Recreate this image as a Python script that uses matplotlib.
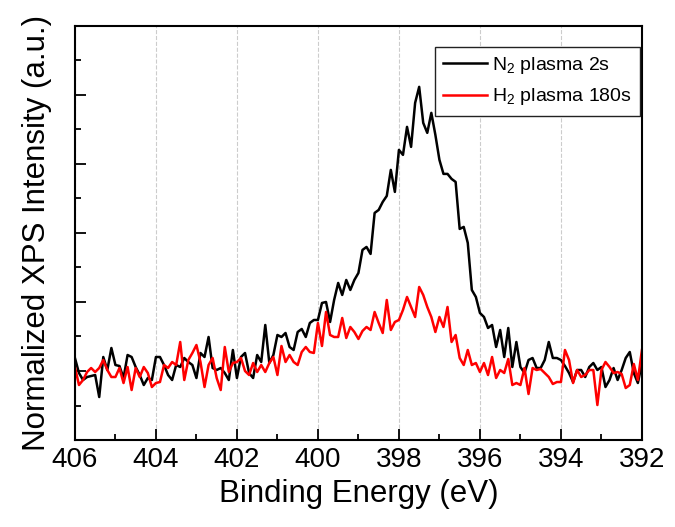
import numpy as np
import matplotlib
matplotlib.use("Agg")
import matplotlib.pyplot as plt
from matplotlib.ticker import MultipleLocator

plt.rcParams['font.family'] = ['Liberation Sans', 'DejaVu Sans']
plt.rcParams['mathtext.fontset'] = 'custom'
plt.rcParams['mathtext.rm'] = 'Liberation Sans'

# binding energy grid, 0.1 eV steps from 406 down to 392
energy = np.round(406 - 0.1 * np.arange(141), 1)

n2_2s = [82, 67, 60, 63, 64, 65, 43, 83, 70, 92,
         75, 74, 62, 85, 83, 73, 65, 55, 62, 60,
         83, 83, 75, 65, 60, 75, 73, 82, 78, 75,
         62, 87, 83, 103, 72, 70, 72,
         67, 60, 90, 62, 83, 87, 67, 62, 85, 78,
         115, 77, 85, 105, 103, 107, 93, 90, 108, 111,
         103, 117, 120, 120, 137, 138, 118, 140, 157, 145,
         160, 150, 160, 167, 190,
         193, 186, 227, 230, 238, 244, 270, 248, 290, 285,
         313, 293, 337, 353, 317, 307, 327, 305, 280, 266,
         266, 261, 258, 211, 213, 197, 150, 143, 127, 123,
         112, 115, 93,
         110, 83, 112, 73, 98, 73, 67, 80, 82, 72,
         72, 80, 98, 82, 82, 80, 74, 67, 58, 70,
         70, 63, 73, 77, 70, 73, 53, 60, 72, 60,
         70, 82, 88, 67, 57, 77]

h2_180s = [73, 55, 60, 68, 72, 68, 72, 80, 70, 63,
           63, 72, 57, 73, 50, 72, 63, 73, 67, 53,
           57, 58, 75, 72, 78, 75, 98, 60, 80, 87,
           95, 78, 53, 75, 82, 62, 50,
           93, 68, 77, 78, 82, 69, 65, 77, 68, 75,
           68, 77, 83, 65, 94, 78, 85, 78, 75, 88,
           93, 88, 87, 117, 94, 128, 105, 103, 103, 122,
           102, 113, 108, 101, 109,
           113, 110, 128, 117, 107, 140, 110, 118, 120, 130,
           143, 133, 123, 153, 145, 133, 123, 108, 123, 113,
           133, 98, 105, 82, 75, 90, 75, 77, 68, 77,
           65, 83, 62,
           70, 67, 81, 55, 57, 55, 72, 46, 72, 70,
           71, 67, 63, 56, 58, 58, 90, 80, 57, 70,
           63, 65, 70, 70, 35, 70, 78, 73, 67, 68,
           66, 52, 55, 76, 60, 90]

labels = ['N$_2$ plasma 2s', 'H$_2$ plasma 180s']

fig = plt.figure(figsize=(6.75, 5.27), dpi=100)
ax = fig.add_axes([0.111, 0.165, 0.840, 0.786])

ax.plot(energy, n2_2s, color='black', linewidth=1.8, label=labels[0])
ax.plot(energy, h2_180s, color='red', linewidth=1.8, label=labels[1])

ax.set_xlim(406, 392)
ax.set_ylim(0, 414)
ax.xaxis.set_major_locator(MultipleLocator(2))
ax.xaxis.set_minor_locator(MultipleLocator(1))
ax.yaxis.set_major_locator(MultipleLocator(69))
ax.yaxis.set_minor_locator(MultipleLocator(34.5))
ax.tick_params(which='both', direction='in', top=False, right=False,
               width=1.3, labelsize=20)
ax.tick_params(which='major', length=8)
ax.tick_params(which='minor', length=4)
ax.set_yticklabels([])
ax.tick_params(axis='x', pad=5)
ax.grid(axis='x', which='major', color='#cccccc', linestyle='--', linewidth=0.8)

for s in ax.spines.values():
    s.set_linewidth(1.5)

ax.set_xlabel('Binding Energy (eV)', fontsize=22.5, labelpad=4)
ax.set_ylabel('Normalized XPS Intensity (a.u.)', fontsize=22.5, labelpad=13)

leg = ax.legend(loc='upper right', bbox_to_anchor=(0.997, 0.95), borderaxespad=0,
                fontsize=14, fancybox=False, framealpha=1, edgecolor='#222222',
                handlelength=2.3, handletextpad=0.25, borderpad=0.42, labelspacing=0.55)
leg.get_frame().set_linewidth(1.0)

fig.savefig('out.png', dpi=100)
